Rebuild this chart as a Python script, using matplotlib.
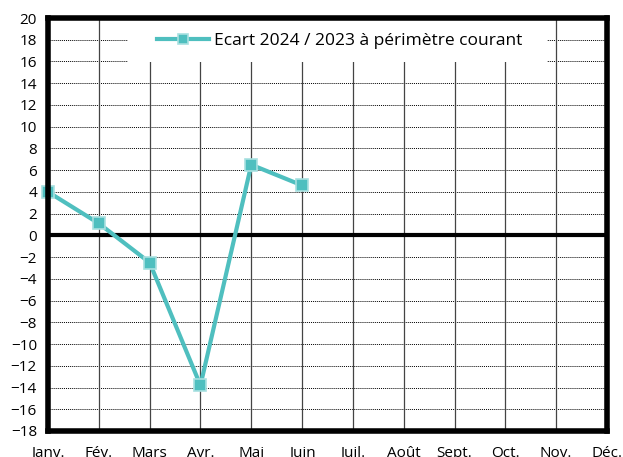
import matplotlib
matplotlib.use("Agg")
from matplotlib import pyplot as plt
from matplotlib.patches import Rectangle

# Monthly gap 2024 vs 2023, current scope
months = ['Janv.', 'Fév.', 'Mars', 'Avr.', 'Mai', 'Juin',
          'Juil.', 'Août', 'Sept.', 'Oct.', 'Nov.', 'Déc.']
ecart = [4.0, 1.1, -2.5, -13.8, 6.5, 4.6]
series_label = 'Ecart 2024 / 2023 à périmètre courant'
yticks = list(range(-18, 21, 2))

plt.rcParams['font.family'] = ['Open Sans', 'DejaVu Sans']

fig = plt.figure(figsize=(6.23, 4.57), dpi=100)
ax = fig.add_axes([48 / 623, 1 - 431 / 457, (607 - 48) / 623, (431 - 18) / 457])

ax.set_xlim(0, len(months) - 1)
ax.set_ylim(-18, 20)
ax.set_xticks(range(len(months)))
ax.set_xticklabels(months)
ax.set_yticks(yticks)

# grid
for y in yticks:
    ax.axhline(y, color='black', lw=0.7, ls=(0, (1, 1)), zorder=1)
for i in range(len(months)):
    ax.axvline(i, color='#444444', lw=0.9, zorder=1)
ax.axhline(0, color='black', lw=3, zorder=2)

# white box behind the legend
ax.add_patch(Rectangle((0.143, 0.893), 0.75, 0.11, transform=ax.transAxes,
                       facecolor='white', edgecolor='none', zorder=3))

ax.plot(range(len(ecart)), ecart, color='#4fbfbf', lw=3, marker='s',
        markersize=9, markerfacecolor='#4fbfbf', markeredgecolor='#a8e0e0',
        markeredgewidth=1.2, label=series_label, zorder=5, clip_on=False)

for s in ax.spines.values():
    s.set_linewidth(4)
    s.set_color('black')
    s.set_zorder(6)

ax.tick_params(length=0, labelsize=11, colors='black')
ax.tick_params(axis='x', pad=11)
ax.tick_params(axis='y', pad=8)

leg = ax.legend(loc='center', bbox_to_anchor=(0.5215, 0.944), frameon=False,
                fontsize=12.5, handlelength=3.0, borderpad=0,
                borderaxespad=0, handletextpad=0.3, markerscale=0.85)
leg.set_zorder(7)

fig.savefig('out.png', dpi=100)
